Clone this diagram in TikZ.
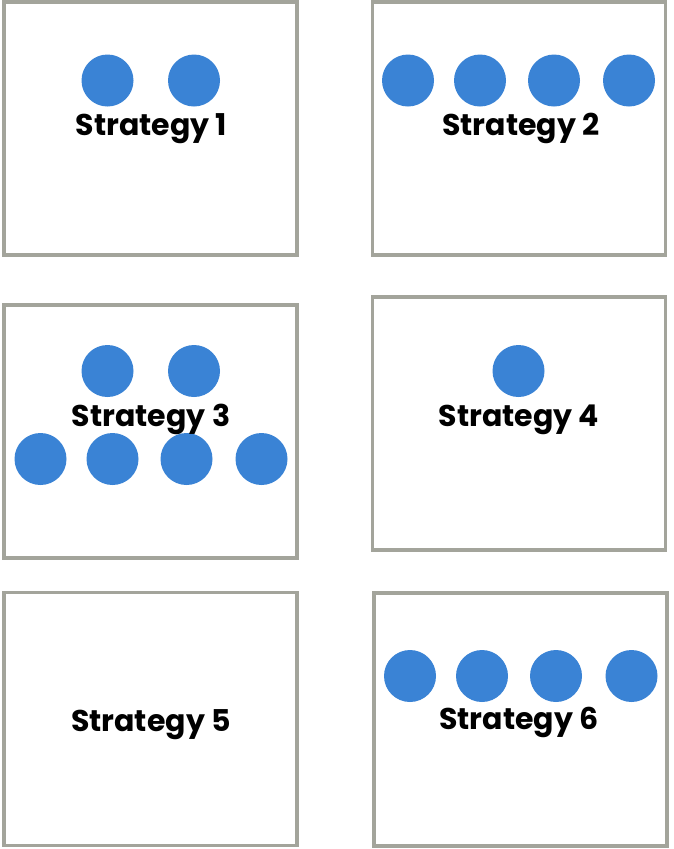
\documentclass[tikz,border=0pt]{standalone}
\usepackage{fontspec}
\setmainfont{Poppins}
\usepackage{xcolor}
\usepackage{tikz}

\definecolor{dotblue}{HTML}{3A83D5}
\definecolor{framegray}{HTML}{A3A49B}

\begin{document}
\begin{tikzpicture}[
  x=1pt, y=-1pt,
  font=\fontsize{30}{36}\selectfont\bfseries,
  stratbox/.style={draw=framegray, line width=3.5pt, fill=white, inner sep=0pt, outer sep=0pt,
                   minimum width=293pt, minimum height=253pt},
  dot/.style={circle, fill=dotblue, inner sep=0pt, outer sep=0pt, minimum size=52pt},
  stratlabel/.style={anchor=base, inner sep=0pt},
]
\useasboundingbox (0,0) rectangle (673,849);

%% ── Frames ────────────────────────────────────────────────────────────────
\node[stratbox] (s1) at (150.5, 128.5) {};
\node[stratbox] (s2) at (519,   128.5) {};
\node[stratbox] (s3) at (150.5, 431.5) {};
\node[stratbox] (s4) at (519,   423.5) {};
\node[stratbox] (s5) at (150.5, 719)   {};
\node[stratbox] (s6) at (520.5, 719.5) {};

%% ── Dots ──────────────────────────────────────────────────────────────────
\node[dot] (s1a) at (107.5, 80.5) {};
\node[dot] (s1b) at (194,   80.5) {};

\foreach \x [count=\i] in {408, 480, 554, 629}
  \node[dot] (s2d\i) at (\x, 80.5) {};

\node[dot] (s3a) at (107.5, 371) {};
\node[dot] (s3b) at (194,   371) {};
\foreach \x [count=\i] in {40.5, 112.5, 186.5, 261.5}
  \node[dot] (s3d\i) at (\x, 459) {};

\node[dot] (s4a) at (518.5, 371) {};

\foreach \x [count=\i] in {410, 482, 556, 631.5}
  \node[dot] (s6d\i) at (\x, 676) {};

%% ── Labels ────────────────────────────────────────────────────────────────
\node[stratlabel] (l1) at (151.5, 135) {Strategy 1};
\node[stratlabel] (l2) at (521,   135) {Strategy 2};
\node[stratlabel] (l3) at (151,   426) {Strategy 3};
\node[stratlabel] (l4) at (519,   426) {Strategy 4};
\node[stratlabel] (l5) at (151,   731) {Strategy 5};
\node[stratlabel] (l6) at (519,   729) {Strategy 6};

\end{tikzpicture}
\end{document}
